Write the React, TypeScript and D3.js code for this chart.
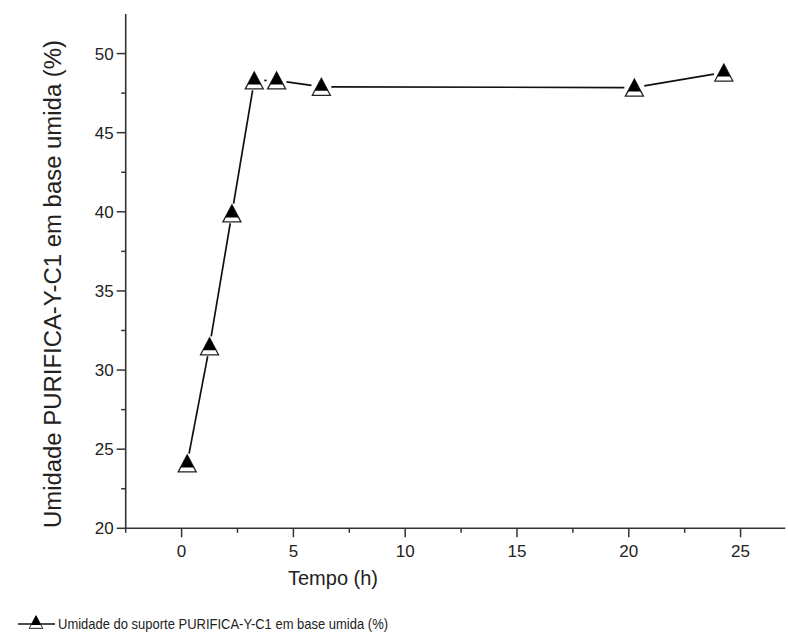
import React from "react";
import * as d3 from "d3";

const tempo = [0.25, 1.25, 2.25, 3.25, 4.25, 6.25, 20.25, 24.25];
const umidade = [24.1, 31.5, 39.9, 48.3, 48.3, 47.9, 47.85, 48.8];
const xTicks = [0, 5, 10, 15, 20, 25];
const yTicks = [20, 25, 30, 35, 40, 45, 50];

const W = 788;
const H = 637;

const x = d3.scaleLinear().domain([-2.5, 27]).range([125.7, 785.3]);
const y = d3.scaleLinear().domain([20, 52.5]).range([528.3, 14]);

const font = "Liberation Sans, Arial, sans-serif";
const ink = "#222";

const Marker = ({ cx, cy, s = 1 }: { cx: number; cy: number; s?: number }) => (
  <g transform={`translate(${cx},${cy}) scale(${s})`}>
    <path d="M0,-8.5L9,8.5L-9,8.5Z" fill="#fff" stroke={ink} strokeWidth={1.3} />
    <path d="M0,-8.5L6.6,4L-6.6,4Z" fill="#000" />
  </g>
);

export default function App() {
  const pts = tempo.map((t, i) => [x(t), y(umidade[i])]);
  const gap = 10;
  const segs = pts.slice(1).map((p, i) => {
    const a = pts[i];
    const dx = p[0] - a[0];
    const dy = p[1] - a[1];
    const len = Math.hypot(dx, dy);
    const ux = dx / len;
    const uy = dy / len;
    return [a[0] + ux * gap, a[1] + uy * gap, p[0] - ux * gap, p[1] - uy * gap];
  });
  const xMinor = d3.range(-2.5, 27.01, 2.5).filter((v) => !xTicks.includes(v));
  const yMinor = d3.range(22.5, 52.5, 5);
  const x0 = x.range()[0];
  const y0 = y.range()[0];

  return (
    <svg width={W} height={H} style={{ position: "absolute", left: 0, top: 0, background: "#fff" }}>
      <rect width={W} height={H} fill="#fff" />
      {/* axes */}
      <line x1={x0} x2={x.range()[1]} y1={y0} y2={y0} stroke="#333" strokeWidth={1.6} />
      <line x1={x0} x2={x0} y1={y.range()[1]} y2={y0} stroke="#333" strokeWidth={1.6} />
      {xTicks.map((t) => (
        <g key={"xt" + t}>
          <line x1={x(t)} x2={x(t)} y1={y0} y2={y0 + 9} stroke="#333" strokeWidth={1.5} />
          <text x={x(t)} y={y0 + 29} textAnchor="middle" fontFamily={font} fontSize={17} fill={ink}>
            {t}
          </text>
        </g>
      ))}
      {xMinor.map((t) => (
        <line key={"xm" + t} x1={x(t)} x2={x(t)} y1={y0} y2={y0 + 4.5} stroke="#333" strokeWidth={1.5} />
      ))}
      {yTicks.map((t) => (
        <g key={"yt" + t}>
          <line x1={x0 - 9} x2={x0} y1={y(t)} y2={y(t)} stroke="#333" strokeWidth={1.5} />
          <text x={x0 - 12} y={y(t) + 6} textAnchor="end" fontFamily={font} fontSize={17} fill={ink}>
            {t}
          </text>
        </g>
      ))}
      {yMinor.map((t) => (
        <line key={"ym" + t} x1={x0 - 4.5} x2={x0} y1={y(t)} y2={y(t)} stroke="#333" strokeWidth={1.5} />
      ))}
      {/* axis titles */}
      <text x={333} y={585} textAnchor="middle" fontFamily={font} fontSize={20} fill={ink}>
        Tempo (h)
      </text>
      <text
        transform={`translate(61,284) rotate(-90)`}
        textAnchor="middle"
        fontFamily={font}
        fontSize={23}
        fill={ink}
        textLength={488}
        lengthAdjust="spacingAndGlyphs"
      >
        Umidade PURIFICA-Y-C1 em base umida (%)
      </text>
      {/* series */}
      {segs.map((s, i) => (
        <line key={"s" + i} x1={s[0]} y1={s[1]} x2={s[2]} y2={s[3]} stroke="#111" strokeWidth={1.7} />
      ))}
      {pts.map((p, i) => (
        <Marker key={"m" + i} cx={p[0]} cy={p[1]} />
      ))}
      {/* legend */}
      <line x1={18} x2={55} y1={624} y2={624} stroke="#111" strokeWidth={1.4} />
      <Marker cx={36} cy={622} s={0.75} />
      <text
        x={58}
        y={629}
        fontFamily={font}
        fontSize={15}
        fill={ink}
        textLength={330}
        lengthAdjust="spacingAndGlyphs"
      >
        Umidade do suporte PURIFICA-Y-C1 em base umida (%)
      </text>
    </svg>
  );
}
